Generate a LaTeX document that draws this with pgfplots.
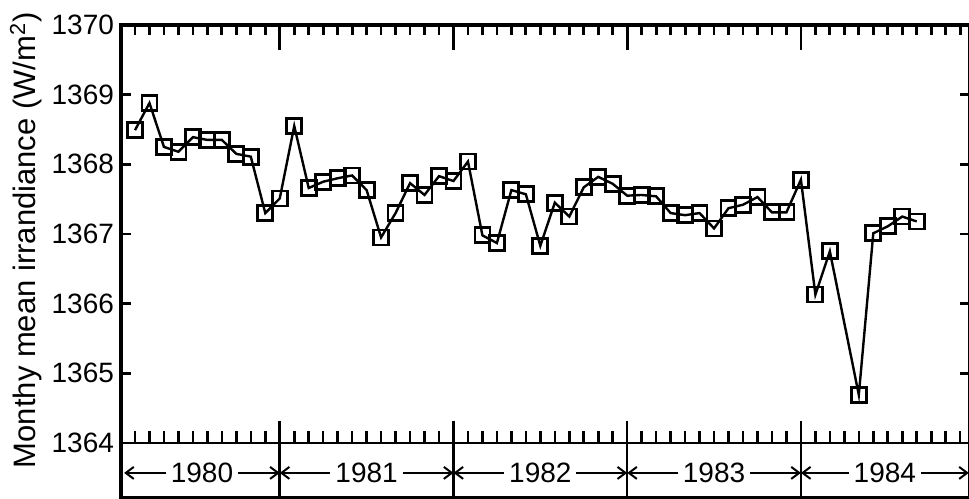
\documentclass[border=0pt]{standalone}
\usepackage{fontspec}
\setmainfont{Liberation Sans}
\usepackage{pgfplots}
\usepackage{pgfplotstable}
\pgfplotsset{compat=1.18}
\usetikzlibrary{arrows.meta,calc}

% month index: 0 = start of 1980, 12 = start of 1981, ...
\pgfplotstableread{
m irr
2 1368.49
3 1368.88
4 1368.25
5 1368.18
6 1368.39
7 1368.35
8 1368.35
9 1368.15
10 1368.11
11 1367.30
12 1367.51
13 1368.55
14 1367.66
15 1367.75
16 1367.80
17 1367.84
18 1367.63
19 1366.95
20 1367.30
21 1367.73
22 1367.56
23 1367.83
24 1367.76
25 1368.04
26 1366.98
27 1366.87
28 1367.63
29 1367.57
30 1366.83
31 1367.45
32 1367.25
33 1367.67
34 1367.82
35 1367.72
36 1367.55
37 1367.56
38 1367.54
39 1367.30
40 1367.27
41 1367.30
42 1367.08
43 1367.37
44 1367.42
45 1367.53
46 1367.31
47 1367.31
48 1367.78
49 1366.13
50 1366.75
52 1364.69
53 1367.01
54 1367.11
55 1367.25
56 1367.18
}\irrdata

\newcommand\lblfont{\fontsize{14}{16}\selectfont}
\tikzset{yr/.style={{Straight Barb[length=4pt,width=6pt]}-{Straight Barb[length=4pt,width=6pt]}, line width=1pt}}

\begin{document}
\begin{tikzpicture}
\begin{axis}[
    name=ax,
    scale only axis,
    width=424.5pt, height=236.5pt,
    xmin=1.033, xmax=59.68,
    ymin=1363.21, ymax=1370,
    xtick={2,...,59}, xticklabels={},
    xtick pos=right,
    extra x ticks={12,24,36,48}, extra x tick labels={},
    extra x tick style={major tick length=12.5pt},
    ytick={1364,...,1370}, minor y tick num=1,
    yticklabel pos=left,
    tick align=inside,
    major tick length=5pt, minor tick length=4pt,
    tick style={line width=1.4pt, black},
    axis line style={line width=1.6pt},
    /pgf/number format/assume math mode=true,
    /pgf/number format/1000 sep={},
    yticklabel style={font=\lblfont},
    ylabel={Monthy mean irrandiance (W/m\textsuperscript{2})},
    ylabel style={font=\fontsize{15.5}{18}\selectfont, at={(axis description cs:-0.112,0.545)}, anchor=center},
    clip=false,
]
\addplot[black, line width=1.2pt, mark=square, mark size=3.75pt, mark options={line width=1.4pt, solid}]
    table[x=m, y=irr] {\irrdata};

% thick left frame
\draw[line width=2.2pt] (rel axis cs:0,0) -- (rel axis cs:0,1);
% time axis at 1364
\draw[line width=1.2pt] (axis cs:1.033,1364) -- (axis cs:59.68,1364);
\pgfplotsinvokeforeach{2,...,59}{\draw[line width=1.3pt] (axis cs:#1,1364) -- ([yshift=6pt]axis cs:#1,1364);}
\pgfplotsinvokeforeach{12,24,36,48}{\draw[line width=1.3pt] (axis cs:#1,1364.32) -- (axis cs:#1,1363.21);}
% year labels
\draw[yr] (axis cs:1.25,1363.57) -- node[fill=white, inner sep=2.5pt, font=\lblfont]{1980} (axis cs:12,1363.57);
\draw[yr] (axis cs:12,1363.57) -- node[fill=white, inner sep=2.5pt, font=\lblfont]{1981} (axis cs:24,1363.57);
\draw[yr] (axis cs:24,1363.57) -- node[fill=white, inner sep=2.5pt, font=\lblfont]{1982} (axis cs:36,1363.57);
\draw[yr] (axis cs:36,1363.57) -- node[fill=white, inner sep=2.5pt, font=\lblfont]{1983} (axis cs:48,1363.57);
\draw[yr] (axis cs:48,1363.57) -- node[fill=white, inner sep=2.5pt, font=\lblfont]{1984} (axis cs:59.6,1363.57);
\end{axis}
\pgfresetboundingbox
\path[use as bounding box] ($(ax.south west)+(-60.5pt,0pt)$) rectangle ($(ax.south west)+(424pt,249pt)$);
\end{tikzpicture}
\end{document}
